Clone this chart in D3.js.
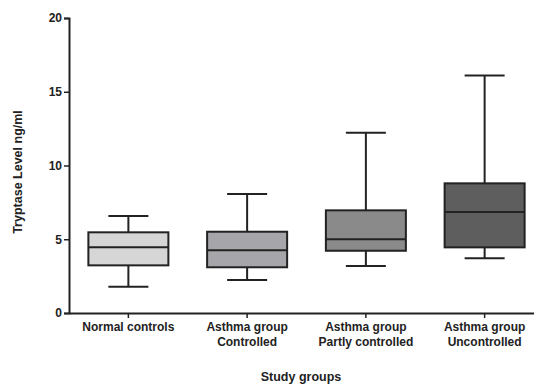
<!DOCTYPE html>
<html><head><meta charset="utf-8">
<script src="https://cdn.jsdelivr.net/npm/d3@7"></script>
<style>body{margin:0;background:#fff}svg{display:block}text{font-family:"Liberation Sans",Arial,sans-serif;font-weight:bold;fill:#222}</style>
</head><body>
<script>
const categories = [["Normal controls"],["Asthma group","Controlled"],["Asthma group","Partly controlled"],["Asthma group","Uncontrolled"]];
const whiskerLow = [1.78, 2.24, 3.19, 3.71];
const q1 = [3.23, 3.1, 4.22, 4.45];
const median = [4.45, 4.25, 5.0, 6.85];
const q3 = [5.47, 5.51, 6.96, 8.79];
const whiskerHigh = [6.58, 8.07, 12.22, 16.11];
const fills = ["#d6d6d6","#a6a6aa","#8a8a8a","#5e5e5e"];
const yTicks = [0,5,10,15,20];

const W=534,H=385;
const svg=d3.select("body").append("svg").attr("width",W).attr("height",H);
const x=d3.scaleBand().domain(d3.range(4)).range([69,544]);
const y=d3.scaleLinear().domain([0,20]).range([313,18]);
const stroke="#222";

const yAxis=svg.append("g").attr("transform","translate(69,0)")
  .call(d3.axisLeft(y).tickValues(yTicks).tickSize(5).tickPadding(2));
yAxis.select(".domain").attr("stroke",stroke).attr("stroke-width",2);
yAxis.selectAll(".tick line").attr("stroke",stroke).attr("stroke-width",1.5);
yAxis.selectAll(".tick text").style("font-size","12px").style("font-weight","bold").attr("fill","#222").attr("font-family","Liberation Sans, Arial, sans-serif");

const xAxis=svg.append("g").attr("transform","translate(0,313)")
  .call(d3.axisBottom(x).tickSize(5).tickSizeOuter(0).tickFormat(""));
xAxis.select(".domain").attr("stroke",stroke).attr("stroke-width",2);
xAxis.selectAll(".tick line").attr("stroke",stroke).attr("stroke-width",1.5);

categories.forEach((lines,i)=>{
  const cx=x(i)+x.bandwidth()/2;
  const t=svg.append("text").attr("x",cx).attr("y",331).attr("text-anchor","middle").style("font-size","12px");
  lines.forEach((l,j)=>t.append("tspan").attr("x",cx).attr("dy",j?15:0).text(l));
});

const bw=80, cw=40;
d3.range(4).forEach(i=>{
  const cx=x(i)+x.bandwidth()/2;
  const g=svg.append("g").attr("stroke",stroke).attr("stroke-width",2);
  g.append("line").attr("x1",cx).attr("x2",cx).attr("y1",y(whiskerHigh[i])).attr("y2",y(q3[i]));
  g.append("line").attr("x1",cx).attr("x2",cx).attr("y1",y(q1[i])).attr("y2",y(whiskerLow[i]));
  g.append("line").attr("x1",cx-cw/2).attr("x2",cx+cw/2).attr("y1",y(whiskerHigh[i])).attr("y2",y(whiskerHigh[i]));
  g.append("line").attr("x1",cx-cw/2).attr("x2",cx+cw/2).attr("y1",y(whiskerLow[i])).attr("y2",y(whiskerLow[i]));
  g.append("rect").attr("x",cx-bw/2).attr("width",bw).attr("y",y(q3[i])).attr("height",y(q1[i])-y(q3[i])).attr("fill",fills[i]);
  g.append("line").attr("x1",cx-bw/2).attr("x2",cx+bw/2).attr("y1",y(median[i])).attr("y2",y(median[i]));
});

svg.append("text").attr("transform","translate(22,172) rotate(-90)").attr("text-anchor","middle").style("font-size","12.5px").text("Tryptase Level ng/ml");
svg.append("text").attr("x",301).attr("y",381).attr("text-anchor","middle").style("font-size","12.5px").text("Study groups");
</script>
</body></html>
